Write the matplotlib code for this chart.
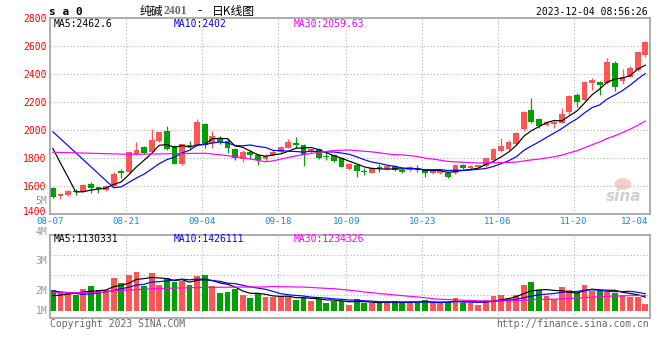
import matplotlib
matplotlib.use("Agg")
import matplotlib.pyplot as plt
from matplotlib.patches import Ellipse
from matplotlib.transforms import ScaledTranslation
import numpy as np
import pandas as pd

# trading days shown on the chart (soda ash 2401, daily K line)
dates = ("08-07 08-08 08-09 08-10 08-11 08-14 08-15 08-16 08-17 08-18 "
         "08-21 08-22 08-23 08-24 08-25 08-28 08-29 08-30 08-31 09-01 "
         "09-04 09-05 09-06 09-07 09-08 09-11 09-12 09-13 09-14 09-15 "
         "09-18 09-19 09-20 09-21 09-22 09-25 09-26 09-27 09-28 "
         "10-09 10-10 10-11 10-12 10-13 10-16 10-17 10-18 10-19 10-20 "
         "10-23 10-24 10-25 10-26 10-27 10-30 10-31 11-01 11-02 11-03 "
         "11-06 11-07 11-08 11-09 11-10 11-13 11-14 11-15 11-16 11-17 "
         "11-20 11-21 11-22 11-23 11-24 11-27 11-28 11-29 11-30 12-01").split()

opens = [1589, 1530, 1535, 1568, 1563, 1618, 1594, 1575, 1599, 1710,
         1703, 1829, 1883, 1848, 1924, 1997, 1888, 1760, 1895, 1893,
         2045, 1907, 1936, 1924, 1867, 1796, 1848, 1821, 1796, 1824,
         1848, 1876, 1907, 1895, 1848, 1867, 1817, 1822, 1800, 1722,
         1753, 1706, 1698, 1741, 1722, 1744, 1717, 1717, 1734, 1717,
         1694, 1694, 1698, 1698, 1753, 1728, 1735, 1746, 1789, 1852,
         1868, 1904, 2007, 2145, 2078, 2038, 2045, 2054, 2133, 2251,
         2216, 2339, 2346, 2334, 2477, 2353, 2382, 2429, 2536]
highs = [1594, 1551, 1575, 1578, 1618, 1634, 1596, 1610, 1701, 1725,
         1848, 1914, 1891, 2009, 1990, 2030, 1893, 1905, 1924, 2080,
         2054, 1995, 1959, 1943, 1872, 1860, 1860, 1827, 1831, 1860,
         1890, 1938, 1950, 1900, 1872, 1870, 1848, 1830, 1805, 1765,
         1758, 1729, 1735, 1758, 1752, 1750, 1722, 1745, 1750, 1722,
         1712, 1715, 1700, 1760, 1760, 1752, 1755, 1805, 1870, 1943,
         1930, 1990, 2135, 2228, 2085, 2068, 2073, 2156, 2251, 2268,
         2350, 2370, 2352, 2512, 2490, 2434, 2458, 2558, 2635]
lows = [1520, 1513, 1533, 1535, 1560, 1556, 1549, 1570, 1594, 1663,
        1695, 1824, 1834, 1843, 1919, 1860, 1757, 1755, 1867, 1888,
        1874, 1872, 1900, 1836, 1789, 1774, 1796, 1755, 1782, 1818,
        1840, 1870, 1872, 1746, 1840, 1793, 1789, 1775, 1738, 1715,
        1670, 1682, 1692, 1701, 1715, 1708, 1695, 1710, 1705, 1665,
        1688, 1690, 1662, 1690, 1722, 1720, 1728, 1740, 1785, 1848,
        1862, 1898, 1995, 2050, 2014, 2030, 2014, 2048, 2109, 2168,
        2211, 2287, 2251, 2329, 2282, 2330, 2378, 2425, 2524]
closes = [1525, 1547, 1568, 1559, 1608, 1585, 1582, 1604, 1689, 1696,
          1843, 1860, 1841, 1931, 1988, 1869, 1760, 1902, 1883, 2057,
          1895, 1959, 1917, 1870, 1800, 1846, 1821, 1789, 1816, 1847,
          1884, 1914, 1897, 1824, 1867, 1805, 1810, 1784, 1741, 1760,
          1706, 1703, 1729, 1729, 1746, 1715, 1703, 1741, 1720, 1694,
          1706, 1708, 1668, 1753, 1731, 1744, 1750, 1800, 1863, 1888,
          1919, 1983, 2131, 2062, 2031, 2062, 2062, 2114, 2244, 2204,
          2346, 2358, 2322, 2488, 2311, 2382, 2441, 2555, 2631]
# volume, millions of lots
volumes = [1.72, 1.45, 1.45, 1.31, 1.81, 2.06, 1.72, 1.72, 2.72, 2.34,
           2.98, 3.25, 2.09, 3.17, 2.15, 2.72, 2.42, 2.48, 2.15, 2.90,
           2.98, 2.04, 1.50, 1.59, 1.78, 1.31, 1.08, 1.50, 1.16, 1.11,
           1.11, 1.16, 0.89, 1.16, 0.83, 0.94, 0.67, 0.83, 0.83, 0.48,
           0.97, 0.67, 0.61, 0.61, 0.75, 0.83, 0.67, 0.75, 0.67, 0.89,
           0.61, 0.61, 0.75, 1.08, 0.61, 0.67, 0.48, 0.89, 1.26, 1.31,
           1.08, 1.31, 2.15, 2.39, 1.72, 1.23, 0.97, 2.00, 1.72, 1.45,
           2.15, 1.67, 1.67, 1.59, 1.45, 1.31, 1.16, 1.16, 0.56]

ma5_head = {0: 1870, 1: 1765, 2: 1665, 3: 1560}
ma10_head = {0: 1989, 4: 1790, 8: 1590}
ma30_head = {0: 1843, 5: 1836, 10: 1828, 15: 1832, 20: 1836, 22: 1825,
             24: 1812, 26: 1795, 28: 1775}
vma5_head = {0: 1.25, 1: 1.30, 2: 1.39, 3: 1.45}
vma10_head = {0: 1.64, 2: 1.50, 4: 1.36, 6: 1.48, 8: 1.67}
vma30_head = {0: 1.50, 6: 1.50, 8: 1.67, 11: 1.75, 14: 1.86, 20: 1.94,
              25: 1.97, 28: 1.98}

tick_dates = ["08-07", "08-21", "09-04", "09-18", "10-09", "10-23", "11-06", "11-20"]
grid_dates = tick_dates[1:]
price_ticks = list(range(1400, 2801, 200))

RED = "#ff5555"
GREEN = "#00a000"
XBLUE = "#1a8ad4"
BORDER = "#a0a0a0"
GRIDC = "#b0b0b0"
W, H = 660, 360
MONO = "DejaVu Sans Mono"

opens, highs, lows = np.array(opens), np.array(highs), np.array(lows)
closes, volumes = np.array(closes), np.array(volumes)
n = len(dates)
x = np.arange(n)
cx = x + 0.38
up = closes >= opens
colors = np.where(up, RED, GREEN)


def ma_line(values, win, head):
    s = pd.Series(values).rolling(win).mean()
    xs = list(head.keys()) + list(range(win - 1, len(values)))
    ys = list(head.values()) + list(s.iloc[win - 1:])
    return np.array(xs) + 0.38, np.array(ys)


def fx(px):
    return px / W


def fy(py):
    return 1 - py / H


fig = plt.figure(figsize=(W / 100, H / 100), dpi=100)
ax = fig.add_axes([fx(50), fy(214.4), 600 / W, 196.4 / H])
axv = fig.add_axes([fx(50), fy(318), 600 / W, 83.3 / H])

for a in (ax, axv):
    a.set_xlim(0, n)
    for s in a.spines.values():
        s.set_color(BORDER)
        s.set_linewidth(1.2)
    a.tick_params(length=0)
    for d in grid_dates:
        a.axvline(dates.index(d), color=GRIDC, lw=0.8, ls=(0, (1, 2)), zorder=1)

# candles
body = np.maximum(np.abs(closes - opens), 5)
ax.vlines(cx, lows, highs, colors=colors, lw=0.9, zorder=2)
ax.bar(x, body, bottom=np.minimum(opens, closes), width=0.76, align="edge",
       color=colors, zorder=2)
for win, head, c in ((5, ma5_head, "black"), (10, ma10_head, "#0000ff"),
                     (30, ma30_head, "#ff00ff")):
    xs, ys = ma_line(closes, win, head)
    ax.plot(xs, ys, color=c, lw=0.85, zorder=3)

ax.set_ylim(1400, 2800)
ax.set_yticks(price_ticks)
ax.set_yticklabels([str(p) for p in price_ticks], color="#ff0000",
                   fontsize=7, family=MONO)
ax.tick_params(axis="y", pad=2.5)
# lift the bottom price label a little so it clears the first date
lab0 = ax.get_yticklabels()[0]
lab0.set_transform(lab0.get_transform() + ScaledTranslation(0, 2.5 / 72, fig.dpi_scale_trans))
for p in price_ticks[1:-1]:
    ax.axhline(p, color=GRIDC, lw=0.8, ls=(0, (1, 2)), zorder=1)
tick_pos = [dates.index(d) for d in tick_dates] + [n - 2]
ax.set_xticks(tick_pos)
ax.set_xticklabels(tick_dates + ["12-04"], color=XBLUE, fontsize=6.6, family=MONO)
ax.tick_params(axis="x", pad=2.2)

# volume
axv.bar(x, volumes, width=0.76, align="edge", color=colors, zorder=2)
for win, head, c in ((5, vma5_head, "black"), (10, vma10_head, "#0000ff"),
                     (30, vma30_head, "#ff00ff")):
    xs, ys = ma_line(volumes, win, head)
    axv.plot(xs, ys, color=c, lw=0.85, zorder=3)
axv.set_ylim(-0.608, 6.333)
for v in (1.31, 2.975, 4.64):
    axv.axhline(v, color=GRIDC, lw=0.8, ls=(0, (1, 2)), zorder=1)
axv.set_xticks([])
axv.set_yticks([])

# watermark
ax.add_patch(Ellipse((0.955, 0.155), 0.028, 0.06, transform=ax.transAxes,
                     facecolor="#f6cccc", edgecolor="none", zorder=0))
ax.text(0.985, 0.09, "sina", transform=ax.transAxes, ha="right", va="center",
        fontsize=11, style="italic", weight="bold", color="#d0d0d0", zorder=0)

# header and labels
fig.text(fx(49), fy(12), "s a 0", fontsize=8, weight="bold", family=MONO,
         va="center", ha="left")
cjk = ["Noto Sans CJK SC", "DejaVu Sans"]
fig.text(fx(140), fy(11), "纯碱", fontsize=8.5, family=cjk, va="center")
fig.text(fx(164), fy(11.5), "2401", fontsize=8.5, family="Liberation Serif",
         weight="bold", color="#666666", va="center")
fig.text(fx(197), fy(11), "-", fontsize=8.5, family=cjk, va="center")
fig.text(fx(212), fy(11), "日K线图", fontsize=8.5, family=cjk, va="center")
fig.text(fx(648), fy(12), "2023-12-04 08:56:26", fontsize=7, family=MONO,
         ha="right", va="center")

for xx, s, c in ((54, "MA5:2462.6", "black"), (174, "MA10:2402", "#0000ff"),
                 (294, "MA30:2059.63", "#ff00ff")):
    fig.text(fx(xx), fy(24), s, color=c, fontsize=7, family=MONO, va="center")
for xx, s, c in ((54, "MA5:1130331", "black"), (174, "MA10:1426111", "#0000ff"),
                 (294, "MA30:1234326", "#ff00ff")):
    fig.text(fx(xx), fy(238.5), s, color=c, fontsize=7, family=MONO, va="center")

for yy, s in ((200.7, "5M"), (231.8, "4M"), (260.7, "3M"), (290.7, "2M"), (310.7, "1M")):
    fig.text(fx(47.5), fy(yy), s, color="#999999", fontsize=7, family=MONO,
             ha="right", va="center")

fig.text(fx(50), fy(324), "Copyright 2023 SINA.COM", color="#666666",
         fontsize=7, family=MONO, va="center")
fig.text(fx(649), fy(324), "http://finance.sina.com.cn", color="#666666",
         fontsize=7, family=MONO, va="center", ha="right")

fig.savefig("out.png", dpi=100, facecolor="white")
